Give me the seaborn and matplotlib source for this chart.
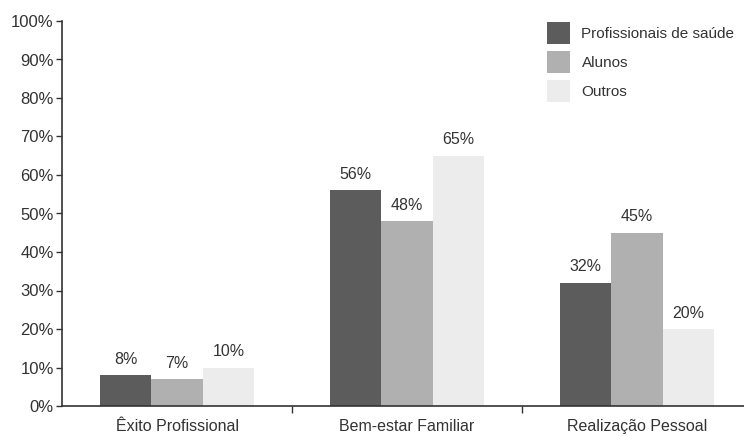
import matplotlib
matplotlib.use("Agg")
import matplotlib.pyplot as plt
import seaborn as sns
import pandas as pd
from matplotlib.ticker import FixedLocator

categories = ["Êxito Profissional", "Bem-estar Familiar", "Realização Pessoal"]
groups = ["Profissionais de saúde", "Alunos", "Outros"]
prof_saude = [8, 56, 32]
alunos = [7, 48, 45]
outros = [10, 65, 20]
ytick_labels = ["0%", "10%", "20%", "30%", "40%", "50%", "60%", "70%", "80%", "90%", "100%"]

rows = []
for g, vals in zip(groups, [prof_saude, alunos, outros]):
    for c, v in zip(categories, vals):
        rows.append({"Categoria": c, "Grupo": g, "Valor": v})
df = pd.DataFrame(rows)

sns.set_style("white")
plt.rcParams['font.family'] = ['Liberation Sans', 'DejaVu Sans']

fs = 11.5
fig = plt.figure(figsize=(7.44, 4.36), dpi=100)
ax = fig.add_axes([62/744, 30/436, 1 - 62/744, 385/436])

palette = ["#5c5c5c", "#b0b0b0", "#ececec"]
sns.barplot(data=df, x="Categoria", y="Valor", hue="Grupo", order=categories,
            hue_order=groups, palette=palette, width=0.67, saturation=1,
            edgecolor="none", linewidth=0, ax=ax)

for cont in ax.containers:
    ax.bar_label(cont, labels=[f"{int(v)}%" for v in cont.datavalues],
                 padding=6, fontsize=fs, color="#333333")

ax.set_ylim(0, 100)
ax.set_xlim(-0.5, 2.465)
ax.set_yticks(range(0, 101, 10))
ax.set_yticklabels(ytick_labels, fontsize=12, color="#333333")
ax.set_xticks(range(3))
ax.set_xticklabels(categories, fontsize=fs, color="#333333")
ax.tick_params(axis="x", length=0, pad=9)
ax.tick_params(axis="y", length=4, width=1, color="#333333", direction="out", left=True, pad=2)
ax.xaxis.set_minor_locator(FixedLocator([0.5, 1.5]))
ax.tick_params(axis="x", which="minor", length=5, width=1, color="#333333", direction="out", bottom=True)
ax.set_xlabel("")
ax.set_ylabel("")
for s in ["top", "right"]:
    ax.spines[s].set_visible(False)
for s in ["left", "bottom"]:
    ax.spines[s].set_color("#333333")
    ax.spines[s].set_linewidth(1.2)

leg = ax.legend(title=None, loc="upper left", bbox_to_anchor=(541/744, 1 - 16/436),
                bbox_transform=fig.transFigure, frameon=False, fontsize=11,
                handlelength=1.5, handleheight=1.85, handletextpad=0.75, labelspacing=0.45,
                borderaxespad=0)
for t in leg.get_texts():
    t.set_color("#333333")

fig.savefig("out.png", dpi=100)
